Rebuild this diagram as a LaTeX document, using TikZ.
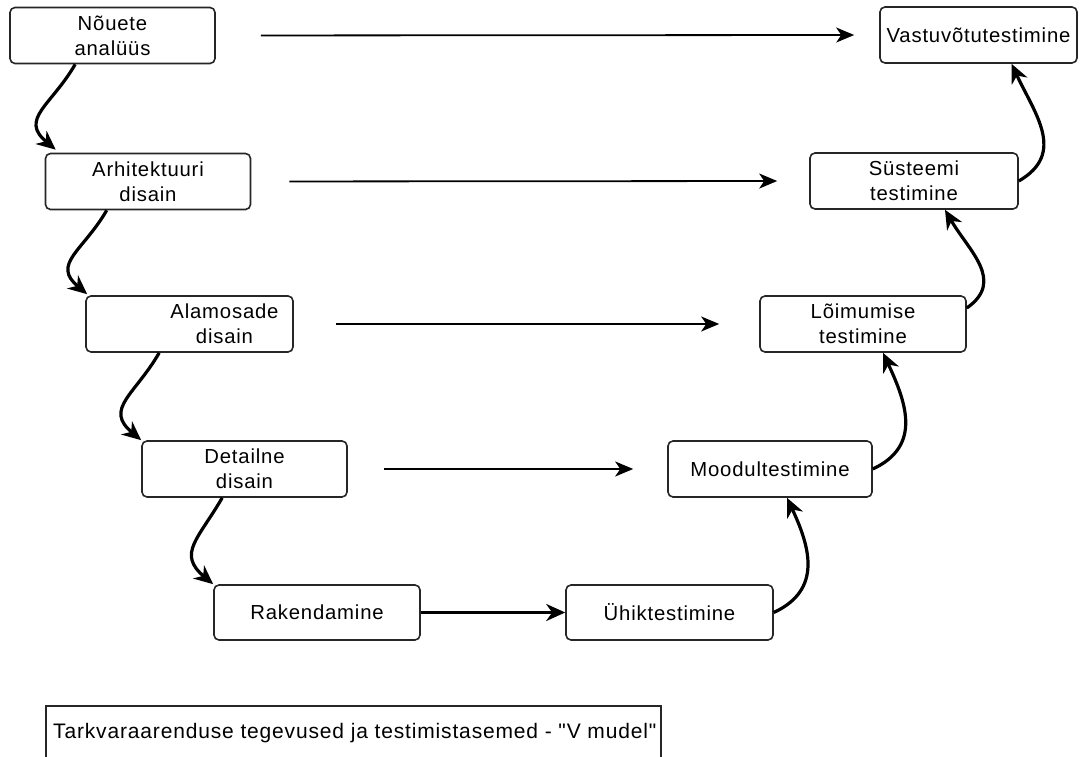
\documentclass[tikz,border=0pt]{standalone}
\usepackage{fontspec}
\setmainfont{Liberation Sans}[LetterSpace=4, Ligatures=TeXOff]
\usetikzlibrary{arrows.meta}
\begin{document}
\begin{tikzpicture}[x=1pt,y=1pt,
  box/.style={draw=black!85, line width=1.6pt, rounded corners=5pt, minimum width=205pt, minimum height=56pt, align=center, inner sep=0pt, font=\fontsize{20.3}{25}\selectfont, text=black},
  flow/.style={line width=1.8pt, -{Stealth[length=18pt,width=15pt,inset=5pt]}},
  bendarrow/.style={line width=3.2pt, -{Stealth[length=19pt,width=17pt,inset=6pt]}},
]
\useasboundingbox (0,0) rectangle (1081,757);
\clip (0,0) rectangle (1081,757);

\node[box] (n1) at (112.5,721.5) {Nõuete\\analüüs};
\node[box] (n2) at (148,575.5) {Arhitektuuri\\disain};
\node[box, minimum width=207pt] (n3) at (189.5,433) {\hspace*{70pt}Alamosade\\\hspace*{70pt}disain};
\node[box] (n4) at (244.5,288) {Detailne\\disain};
\node[box, minimum width=206pt, minimum height=55pt] (n5) at (317,144.5) {Rakendamine};
\node[box, minimum width=207pt, minimum height=55pt] (n6) at (669.5,144.5) {Ühiktestimine};
\node[box, minimum width=204pt] (n7) at (770,288) {Moodultestimine};
\node[box, minimum width=206pt] (n8) at (863,433) {Lõimumise\\testimine};
\node[box, minimum width=208pt] (n9) at (914,576) {Süsteemi\\testimine};
\node[box, minimum width=197pt] (n10) at (978.5,722) {Vastuvõtutestimine};

\draw[flow, shorten <=45pt, shorten >=25pt] (n1.east) -- (n10.west);
\draw[flow, shorten <=38pt, shorten >=32pt] (n2.east) -- (n9.west);
\draw[flow, shorten <=42pt, shorten >=40pt] (n3.east) -- (n8.west);
\draw[flow, shorten <=36pt, shorten >=34pt] (n4.east) -- (n7.west);
\draw[bendarrow] (n5.east) -- (n6.west);

\draw[bendarrow] ([xshift=66pt]n1.south west) to[out=-120,in=140,looseness=1.4] ([xshift=11pt,yshift=3pt]n2.north west);
\draw[bendarrow] ([xshift=62pt]n2.south west) to[out=-120,in=140,looseness=1.4] ([xshift=2pt,yshift=1pt]n3.north west);
\draw[bendarrow] ([xshift=74pt]n3.south west) to[out=-120,in=140,looseness=1.4] (n4.north west);
\draw[bendarrow] ([xshift=81pt]n4.south west) to[out=-120,in=140,looseness=1.4] (n5.north west);

\draw[bendarrow] (n6.east) to[out=25,in=-65,looseness=1.2] ([xshift=17pt]n7.south);
\draw[bendarrow] (n7.east) to[out=25,in=-65,looseness=1.2] ([xshift=20pt]n8.south);
\draw[bendarrow] ([yshift=16pt]n8.east) to[out=35,in=-60,looseness=1.2] ([xshift=31pt]n9.south);
\draw[bendarrow] (n9.east) to[out=30,in=-65,looseness=1.2] ([xshift=33pt]n10.south);

\node[draw=black!85, line width=1.6pt, anchor=north west, minimum width=615pt, minimum height=80pt, inner sep=0pt] (capbox) at (45,52) {};
\node[anchor=base west, font=\fontsize{21}{25}\selectfont, inner sep=0pt, text=black] (cap) at (53,18) {Tarkvaraarenduse tegevused ja testimistasemed - "V mudel"};
\end{tikzpicture}
\end{document}
